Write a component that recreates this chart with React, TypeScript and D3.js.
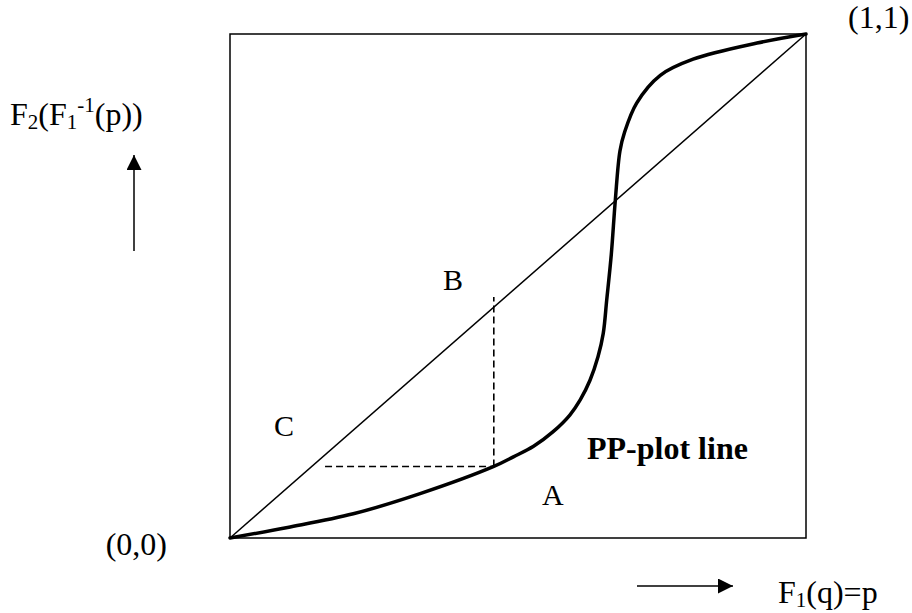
import React from "react";
import * as d3 from "d3";

// PP-plot curve: p = F1(q), value = F2(F1^-1(p))
const pValues = [0, 0.1, 0.214, 0.33, 0.458, 0.492, 0.527, 0.561, 0.59, 0.608, 0.625, 0.639, 0.648, 0.654, 0.662, 0.669, 0.677, 0.685, 0.706, 0.747, 0.804, 0.915, 1];
const ppValues = [0, 0.021, 0.048, 0.088, 0.142, 0.161, 0.182, 0.211, 0.244, 0.274, 0.313, 0.36, 0.406, 0.472, 0.563, 0.671, 0.768, 0.805, 0.863, 0.918, 0.95, 0.982, 1];

// Diagonal reference line
const diagonal = [0, 1];

// Dashed guide: vertical at p, from lower to upper F; horizontal at F from p0 to p
const guideP = 0.458;
const guideF = 0.142;
const guideTopF = 0.478;
const guideLeftP = 0.165;

const cornerLabels = ["(0,0)", "(1,1)"];
const regionLabels = ["A", "B", "C"];
const curveLabel = "PP-plot line";

const W = 912;
const H = 613;
const FONT = "'Liberation Serif', 'Times New Roman', serif";

export default function App() {
  const x = d3.scaleLinear().domain([0, 1]).range([230, 806]);
  const y = d3.scaleLinear().domain([0, 1]).range([538, 34]);

  const pts: [number, number][] = pValues.map((p, i) => [p, ppValues[i]]);
  const line = d3
    .line<[number, number]>()
    .x((d) => x(d[0]))
    .y((d) => y(d[1]))
    .curve(d3.curveCatmullRom.alpha(0.5));

  const fs = 30;
  const fa = 32;

  return (
    <svg
      width={W}
      height={H}
      style={{ position: "absolute", left: 0, top: 0, background: "#fff" }}
      fontFamily={FONT}
    >
      <defs>
        <marker id="ah" viewBox="0 0 10 10" refX="10" refY="5" markerWidth="15" markerHeight="15" markerUnits="userSpaceOnUse" orient="auto">
          <path d="M0,0 L10,5 L0,10 z" fill="#000" />
        </marker>
      </defs>
      <rect width={W} height={H} fill="#fff" />
      {/* frame */}
      <rect
        x={x(0)}
        y={y(1)}
        width={x(1) - x(0)}
        height={y(0) - y(1)}
        fill="none"
        stroke="#000"
        strokeWidth={1.5}
      />
      {/* diagonal */}
      <line
        x1={x(diagonal[0])}
        y1={y(diagonal[0])}
        x2={x(diagonal[1])}
        y2={y(diagonal[1])}
        stroke="#000"
        strokeWidth={1.5}
      />
      {/* dashed guides */}
      <line
        x1={x(guideP)}
        x2={x(guideP)}
        y1={y(guideF)}
        y2={y(guideTopF)}
        stroke="#000"
        strokeWidth={1.6}
        strokeDasharray="7,4"
      />
      <line
        x1={x(guideLeftP)}
        x2={x(guideP)}
        y1={y(guideF)}
        y2={y(guideF)}
        stroke="#000"
        strokeWidth={1.6}
        strokeDasharray="7,4"
      />
      {/* PP curve */}
      <path d={line(pts) || ""} fill="none" stroke="#000" strokeWidth={3.5} strokeLinejoin="round" strokeLinecap="round" />

      {/* corner labels */}
      <text x={167} y={555} fontSize={fa} textAnchor="end">{cornerLabels[0]}</text>
      <text x={848} y={28} fontSize={fa}>{cornerLabels[1]}</text>

      {/* region labels */}
      <text x={542} y={505} fontSize={fs}>{regionLabels[0]}</text>
      <text x={443} y={290} fontSize={fs}>{regionLabels[1]}</text>
      <text x={274} y={436} fontSize={fs}>{regionLabels[2]}</text>

      <text x={587} y={459} fontSize={32} fontWeight="bold">{curveLabel}</text>

      {/* y axis label */}
      <text x={10} y={125} fontSize={fa}>
        F<tspan fontSize={21} dy={4}>2</tspan>
        <tspan dy={-4}>(F</tspan>
        <tspan fontSize={21} dy={4}>1</tspan>
        <tspan fontSize={21} dy={-17}>-1</tspan>
        <tspan dy={13}>(p))</tspan>
      </text>
      {/* up arrow */}
      <line x1={134} y1={251} x2={134} y2={155} stroke="#000" strokeWidth={1.5} markerEnd="url(#ah)" />

      {/* x axis label */}
      <line x1={637} y1={586} x2={733} y2={586} stroke="#000" strokeWidth={1.5} markerEnd="url(#ah)" />
      <text x={778} y={603} fontSize={fa}>
        F<tspan fontSize={21} dy={4}>1</tspan>
        <tspan dy={-4}>(q)=p</tspan>
      </text>
    </svg>
  );
}
